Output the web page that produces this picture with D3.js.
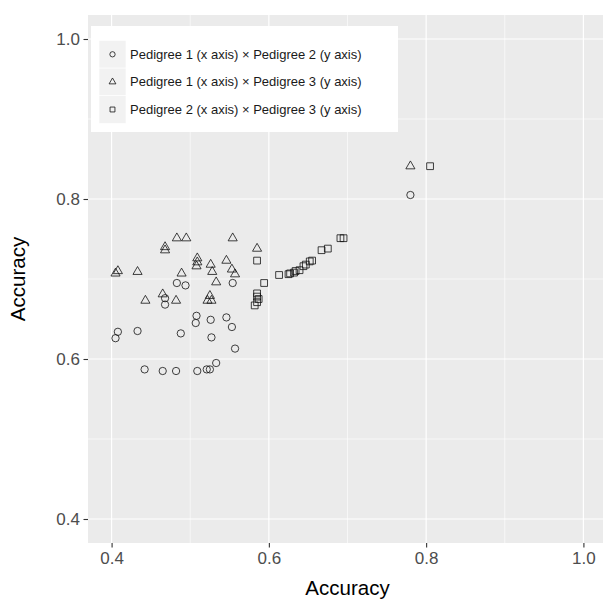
<!DOCTYPE html>
<html>
<head>
<meta charset="utf-8">
<script src="https://cdn.jsdelivr.net/npm/d3@7"></script>
<style>
  body { margin: 0; background: #fff; }
  svg { display: block; font-family: "Liberation Sans", Arial, sans-serif; }
</style>
</head>
<body>
<div id="chart"></div>
<script>
const seriesLabels = [
  "Pedigree 1 (x axis) × Pedigree 2 (y axis)",
  "Pedigree 1 (x axis) × Pedigree 3 (y axis)",
  "Pedigree 2 (x axis) × Pedigree 3 (y axis)"
];

// [x, y] accuracy pairs
const ped1VsPed2 = [
  [0.483, 0.695], [0.494, 0.692], [0.554, 0.695], [0.468, 0.676], [0.468, 0.668],
  [0.508, 0.654], [0.507, 0.645], [0.526, 0.649], [0.546, 0.652], [0.553, 0.640],
  [0.408, 0.634], [0.405, 0.626], [0.433, 0.635], [0.488, 0.632], [0.527, 0.627],
  [0.557, 0.613], [0.442, 0.587], [0.465, 0.585], [0.482, 0.585], [0.509, 0.585],
  [0.521, 0.587], [0.525, 0.587], [0.533, 0.595], [0.780, 0.805]
];

const ped1VsPed3 = [
  [0.483, 0.751], [0.495, 0.751], [0.554, 0.751], [0.468, 0.740], [0.468, 0.736],
  [0.585, 0.738], [0.509, 0.726], [0.509, 0.721], [0.508, 0.716], [0.526, 0.718],
  [0.546, 0.723], [0.553, 0.712], [0.557, 0.706], [0.528, 0.709], [0.408, 0.710],
  [0.405, 0.707], [0.433, 0.709], [0.489, 0.707], [0.533, 0.696], [0.465, 0.681],
  [0.443, 0.673], [0.482, 0.673], [0.525, 0.679], [0.522, 0.673], [0.527, 0.673],
  [0.780, 0.841]
];

const ped2VsPed3 = [
  [0.585, 0.723], [0.594, 0.695], [0.585, 0.682], [0.585, 0.678], [0.587, 0.675],
  [0.585, 0.671], [0.582, 0.667], [0.613, 0.705], [0.625, 0.706], [0.627, 0.707],
  [0.632, 0.708], [0.634, 0.710], [0.639, 0.711], [0.644, 0.716], [0.647, 0.718],
  [0.652, 0.722], [0.655, 0.723], [0.667, 0.736], [0.675, 0.738], [0.691, 0.751],
  [0.695, 0.751], [0.805, 0.841]
];

const majorTicks = [0.4, 0.6, 0.8, 1.0];
const minorTicks = [0.5, 0.7, 0.9];

const width = 603;
const height = 600;
const panel = { left: 88, top: 15, right: 607, bottom: 543 };

const svg = d3.select("#chart").append("svg")
  .attr("width", width)
  .attr("height", height);

const x = d3.scaleLinear().domain([0.37, 1.03]).range([panel.left, panel.right]);
const y = d3.scaleLinear().domain([0.37, 1.03]).range([panel.bottom, panel.top]);

svg.append("rect")
  .attr("x", panel.left)
  .attr("y", panel.top)
  .attr("width", panel.right - panel.left)
  .attr("height", panel.bottom - panel.top)
  .attr("fill", "#ebebeb");

// grid
const grid = svg.append("g");
grid.selectAll("line.vminor").data(minorTicks).enter().append("line")
  .attr("x1", (d) => x(d)).attr("x2", (d) => x(d))
  .attr("y1", panel.top).attr("y2", panel.bottom)
  .attr("stroke", "#fff").attr("stroke-width", 0.6);
grid.selectAll("line.hminor").data(minorTicks).enter().append("line")
  .attr("y1", (d) => y(d)).attr("y2", (d) => y(d))
  .attr("x1", panel.left).attr("x2", panel.right)
  .attr("stroke", "#fff").attr("stroke-width", 0.6);
grid.selectAll("line.vmajor").data(majorTicks).enter().append("line")
  .attr("x1", (d) => x(d)).attr("x2", (d) => x(d))
  .attr("y1", panel.top).attr("y2", panel.bottom)
  .attr("stroke", "#fff").attr("stroke-width", 1.2);
grid.selectAll("line.hmajor").data(majorTicks).enter().append("line")
  .attr("y1", (d) => y(d)).attr("y2", (d) => y(d))
  .attr("x1", panel.left).attr("x2", panel.right)
  .attr("stroke", "#fff").attr("stroke-width", 1.2);

// axes
const xAxis = svg.append("g")
  .attr("transform", `translate(0, ${panel.bottom})`)
  .call(d3.axisBottom(x).tickValues(majorTicks).tickFormat(d3.format(".1f")).tickSize(4.5).tickPadding(4));
const yAxis = svg.append("g")
  .attr("transform", `translate(${panel.left}, 0)`)
  .call(d3.axisLeft(y).tickValues(majorTicks).tickFormat(d3.format(".1f")).tickSize(4.5).tickPadding(3.5));

[xAxis, yAxis].forEach((g) => {
  g.select(".domain").remove();
  g.selectAll(".tick line").attr("stroke", "#333").attr("stroke-width", 1.1);
  g.selectAll(".tick text")
    .attr("fill", "#4d4d4d")
    .attr("font-size", 17)
    .attr("font-family", "Liberation Sans, Arial, sans-serif");
});

svg.append("text")
  .attr("x", (panel.left + panel.right) / 2)
  .attr("y", 595)
  .attr("text-anchor", "middle")
  .attr("font-size", 20.5)
  .attr("fill", "#000")
  .text("Accuracy");

svg.append("text")
  .attr("transform", `translate(25, ${(panel.top + panel.bottom) / 2}) rotate(-90)`)
  .attr("text-anchor", "middle")
  .attr("font-size", 20.5)
  .attr("fill", "#000")
  .text("Accuracy");

// points
const shapes = [d3.symbolCircle, d3.symbolTriangle, d3.symbolSquare];
const pointSizes = [42, 36, 46];
const series = [ped1VsPed2, ped1VsPed3, ped2VsPed3];

series.forEach((data, i) => {
  svg.append("g").selectAll("path")
    .data(data)
    .enter()
    .append("path")
    .attr("transform", (d) => `translate(${x(d[0])}, ${y(d[1])})`)
    .attr("d", d3.symbol().type(shapes[i]).size(pointSizes[i]))
    .attr("fill", "none")
    .attr("stroke", "#111")
    .attr("stroke-width", 0.8);
});

// legend
const legend = svg.append("g");
legend.append("rect")
  .attr("x", 91).attr("y", 26)
  .attr("width", 307).attr("height", 106)
  .attr("fill", "#fff");

const keyH = 27.6;
const rows = legend.selectAll("g.row")
  .data(seriesLabels)
  .enter()
  .append("g")
  .attr("transform", (d, i) => `translate(99, ${40.5 + i * keyH})`);

rows.append("rect")
  .attr("width", 27).attr("height", keyH)
  .attr("fill", "#f2f2f2")
  .attr("stroke", "#fff").attr("stroke-width", 0.6);

rows.append("path")
  .attr("transform", `translate(13.5, ${keyH / 2})`)
  .attr("d", (d, i) => d3.symbol().type(shapes[i]).size([22, 20, 24][i])())
  .attr("fill", "none")
  .attr("stroke", "#111")
  .attr("stroke-width", 0.8);

rows.append("text")
  .attr("x", 31)
  .attr("y", keyH / 2)
  .attr("dy", "0.35em")
  .attr("font-size", 13)
  .attr("fill", "#1a1a1a")
  .text((d) => d);
</script>
</body>
</html>
